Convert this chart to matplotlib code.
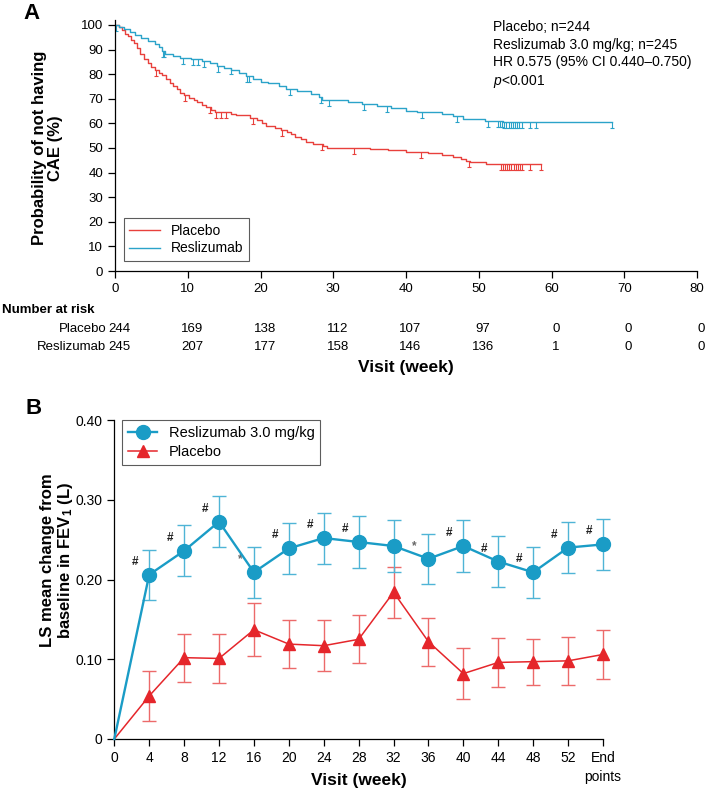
import numpy as np
import matplotlib
matplotlib.use('Agg')
import matplotlib.pyplot as plt
from matplotlib.path import Path

plt.rcParams['font.family'] = ['Liberation Sans', 'DejaVu Sans']
plt.rcParams['mathtext.fontset'] = 'custom'
plt.rcParams['mathtext.rm'] = 'Liberation Sans'
plt.rcParams['mathtext.it'] = 'Liberation Sans:italic'
plt.rcParams['mathtext.bf'] = 'Liberation Sans:bold'

# ---------------- Panel A data (Kaplan-Meier) ----------------
placebo_km_t = [0, 0.5, 1.0, 1.4, 1.8, 2.2, 2.6, 3.0, 3.5, 4.0, 4.5, 5.0, 5.5, 6.0, 6.5, 7.0,
                7.5, 8.0, 8.5, 9.0, 9.5, 10.2, 10.8, 11.3, 11.9, 12.5, 13.2, 13.8, 16.0, 16.6,
                18.6, 19.5, 20.2, 20.8, 22.0, 22.8, 23.6, 24.2, 24.8, 25.5, 26.3, 27.2, 28.6,
                29.1, 35.0, 37.5, 40.0, 43.0, 45.0, 46.5, 47.6, 48.2, 48.8, 51.0, 58.6]
placebo_km_s = [100, 99.2, 98, 96.5, 95.5, 94, 92.5, 90.5, 88, 86, 84.5, 83, 81.5, 80.5, 79.5, 78,
                76.5, 75, 74, 72.5, 71.5, 70.5, 69.5, 68.5, 67.5, 66.5, 65.5, 64.8, 64, 63.2,
                62.3, 61.3, 60.2, 59, 58.3, 57.5, 56.5, 55.5, 54.5, 53.5, 52.5, 51.7, 51,
                50, 49.5, 49, 48.3, 47.8, 47, 46.5, 45.6, 44.8, 44.1, 43.6, 43.6]
resl_km_t = [0, 0.5, 1.2, 2.0, 2.8, 3.6, 4.5, 5.5, 6.0, 6.5, 6.9, 8.0, 9.0, 10.5, 12.0, 13.0,
             14.0, 15.0, 16.0, 17.0, 18.0, 19.0, 20.0, 21.0, 22.5, 23.5, 25.0, 27.0, 28.0, 28.5,
             32.0, 34.0, 36.0, 38.0, 40.0, 41.5, 45.0, 46.4, 47.8, 50.8, 53.4, 68.3]
resl_km_s = [100, 99.3, 98.2, 97, 95.8, 94.6, 93.5, 92.3, 91, 89.5, 88.3, 87.5, 86.7, 86, 85.3, 84.5,
             83.5, 82.5, 81.5, 80.5, 79.2, 78, 77, 76.2, 75, 74, 73, 71.8, 70.6, 69.6,
             68.8, 68, 67, 66.3, 65.2, 64.5, 63.8, 62.8, 61.8, 61, 60.5, 60.5]
placebo_cens = [5.6, 9.6, 13.1, 13.9, 14.6, 15.3, 19.0, 23.0, 28.5, 32.8, 42.0, 48.6,
                53.0, 53.3, 53.6, 53.9, 54.2, 54.5, 54.8, 55.1, 55.4, 55.7, 56.0, 57.1, 58.6]
resl_cens = [0.2, 6.6, 6.8, 9.3, 10.7, 11.4, 12.2, 14.1, 15.9, 18.1, 18.4, 24.0, 28.3, 29.4,
             34.2, 37.4, 42.2, 47.0, 51.3, 52.6, 52.9, 53.2, 53.5, 53.8, 54.1, 54.4, 54.7,
             55.0, 55.3, 55.6, 56.0, 57.1, 57.9, 68.3]
risk_times = [0, 10, 20, 30, 40, 50, 60, 70, 80]
risk_placebo = [244, 169, 138, 112, 107, 97, 0, 0, 0]
risk_resl = [245, 207, 177, 158, 146, 136, 1, 0, 0]

# ---------------- Panel B data (FEV1) ----------------
visit_pos = [0, 4, 8, 12, 16, 20, 24, 28, 32, 36, 40, 44, 48, 52, 56]
visit_labels = ['0', '4', '8', '12', '16', '20', '24', '28', '32', '36', '40', '44', '48', '52',
                'End\npoints']
resl_mean = [0, 0.206, 0.236, 0.2725, 0.209, 0.239, 0.252, 0.247, 0.242, 0.226, 0.242, 0.2225,
             0.209, 0.240, 0.244]
resl_err = [0, 0.0315, 0.032, 0.032, 0.032, 0.032, 0.032, 0.032, 0.032, 0.0315, 0.0325, 0.032,
            0.032, 0.0315, 0.032]
plac_mean = [0, 0.054, 0.102, 0.101, 0.137, 0.119, 0.117, 0.125, 0.184, 0.122, 0.082, 0.096,
             0.097, 0.098, 0.106]
plac_err = [0, 0.0315, 0.030, 0.031, 0.033, 0.030, 0.032, 0.030, 0.032, 0.030, 0.032, 0.031,
            0.029, 0.030, 0.031]
resl_sig = ['', '#', '#', '#', '*', '#', '#', '#', '', '*', '#', '#', '#', '#', '#']

RED_KM = '#e8403c'
BLUE_KM = '#2ba3c9'
BLUE = '#1a9cc6'
BLUE_ERR = '#4fb4d6'
RED = '#e5262b'
RED_ERR = '#ec6a6a'

W, H = 705, 792
fig = plt.figure(figsize=(W / 100, H / 100), dpi=100)

# ---------- Panel A ----------
axA = fig.add_axes([115 / W, (H - 271) / H, 582 / W, 251 / H])
axA.step(placebo_km_t, placebo_km_s, where='post', color=RED_KM, lw=1.0, label='Placebo')
axA.step(resl_km_t, resl_km_s, where='post', color=BLUE_KM, lw=1.0, label='Reslizumab')

cens_marker = Path([(0, 0), (0, -1), (-0.35, -1), (0.35, -1)],
                   [Path.MOVETO, Path.LINETO, Path.MOVETO, Path.LINETO])


def km_at(times, surv, t):
    idx = np.searchsorted(times, t, side='right') - 1
    return np.asarray(surv)[idx]


axA.plot(placebo_cens, km_at(placebo_km_t, placebo_km_s, placebo_cens), ls='none',
         marker=cens_marker, ms=9, mec=RED_KM, mew=0.8)
axA.plot(resl_cens, km_at(resl_km_t, resl_km_s, resl_cens), ls='none',
         marker=cens_marker, ms=9, mec=BLUE_KM, mew=0.8)

axA.set_xlim(0, 80)
axA.set_ylim(0, 102)
axA.set_xticks(risk_times)
axA.set_yticks(np.arange(0, 101, 10))
axA.tick_params(labelsize=9.5, length=5, width=0.9, direction='out')
for s in ['top', 'right']:
    axA.spines[s].set_visible(False)
for s in ['left', 'bottom']:
    axA.spines[s].set_linewidth(0.9)
axA.spines['left'].set_bounds(0, 102)
axA.set_ylabel('Probability of not having\nCAE (%)', fontsize=12, fontweight='bold',
               linespacing=1.1)
axA.yaxis.set_label_coords(-0.089, 0.49)
legA = axA.legend(loc='lower left', bbox_to_anchor=(0.015, 0.04), frameon=True, fancybox=False,
                  edgecolor='#333333', fontsize=10, handlelength=2.2, borderpad=0.4,
                  labelspacing=0.25, borderaxespad=0)
legA.get_frame().set_linewidth(0.8)

fig.text(493 / W, 1 - 20 / H, 'Placebo; n=244', fontsize=10, va='top', ha='left')
fig.text(493 / W, 1 - 37.5 / H, 'Reslizumab 3.0 mg/kg; n=245', fontsize=10, va='top', ha='left')
fig.text(493 / W, 1 - 55 / H, 'HR 0.575 (95% CI 0.440\u20130.750)', fontsize=10, va='top', ha='left')
fig.text(493 / W, 1 - 72.5 / H, r'$p$<0.001', fontsize=10, va='top', ha='left')

# Number at risk table
fig.text(2 / W, 1 - 310 / H, 'Number at risk', fontsize=9.5, fontweight='bold', va='center',
         ha='left')
fig.text(106 / W, 1 - 329 / H, 'Placebo', fontsize=9.5, va='center', ha='right')
fig.text(106 / W, 1 - 347 / H, 'Reslizumab', fontsize=9.5, va='center', ha='right')
for t, p, r in zip(risk_times, risk_placebo, risk_resl):
    xf = axA.transData.transform((t + 0.6, 0))[0] / W
    fig.text(xf, 1 - 329 / H, str(p), fontsize=9.5, va='center', ha='center')
    fig.text(xf, 1 - 347 / H, str(r), fontsize=9.5, va='center', ha='center')
fig.text(406 / W, 1 - 367 / H, 'Visit (week)', fontsize=12.5, fontweight='bold', va='center',
         ha='center')

fig.text(23 / W, 1 - 3 / H, 'A', fontsize=16, fontweight='bold', va='top', ha='left')
fig.text(25 / W, 1 - 398 / H, 'B', fontsize=16, fontweight='bold', va='top', ha='left')

# ---------- Panel B ----------
axB = fig.add_axes([114.3 / W, (H - 739) / H, 488.7 / W, 319 / H])
x = np.array(visit_pos)
e1 = axB.errorbar(x[1:], np.array(plac_mean)[1:], yerr=np.array(plac_err)[1:], fmt='none',
                  ecolor=RED_ERR, elinewidth=1.0, capsize=5, capthick=1.0, zorder=2)
e2 = axB.errorbar(x[1:], np.array(resl_mean)[1:], yerr=np.array(resl_err)[1:], fmt='none',
                  ecolor=BLUE_ERR, elinewidth=1.0, capsize=5, capthick=1.0, zorder=2)
for e in (e1, e2):
    for child in e.get_children():
        child.set_clip_on(False)
axB.plot(x, plac_mean, color=RED, lw=1.1, marker='^', ms=8.5, markevery=list(range(1, len(x))),
         mec=RED, mfc=RED, zorder=3, clip_on=False)
axB.plot(x, resl_mean, color=BLUE, lw=1.7, marker='o', ms=10, markevery=list(range(1, len(x))),
         mec=BLUE, mfc=BLUE, zorder=4, clip_on=False)
for xi, yi, s in zip(x, resl_mean, resl_sig):
    if s:
        axB.annotate(s, (xi, yi), xytext=(-10, 5), textcoords='offset points', fontsize=8.5,
                     fontweight='bold', ha='center', va='bottom',
                     color='#222222' if s == '#' else '#666666')

# legend proxies
h1, = axB.plot([], [], color=BLUE, lw=1.7, marker='o', ms=10, label='Reslizumab 3.0 mg/kg')
h2, = axB.plot([], [], color=RED, lw=1.1, marker='^', ms=8.5, label='Placebo')
legB = axB.legend(handles=[h1, h2], loc='upper left', bbox_to_anchor=(0.016, 1.0), frameon=True,
                  fancybox=False, edgecolor='#333333', fontsize=10.5, handlelength=2.0,
                  borderpad=0.4, labelspacing=0.35, borderaxespad=0)
legB.get_frame().set_linewidth(0.8)

axB.set_xlim(0, 56)
axB.set_ylim(0, 0.40)
axB.set_xticks(visit_pos)
axB.set_xticklabels(visit_labels, linespacing=1.5)
axB.set_yticks([0, 0.10, 0.20, 0.30, 0.40])
axB.set_yticklabels(['0', '0.10', '0.20', '0.30', '0.40'])
axB.tick_params(labelsize=10, length=5, width=0.9, direction='out')
for s in ['top', 'right']:
    axB.spines[s].set_visible(False)
for s in ['left', 'bottom']:
    axB.spines[s].set_linewidth(0.9)
axB.set_ylabel('LS mean change from\nbaseline in FEV$_\\mathbf{1}$ (L)', fontsize=12,
               fontweight='bold', linespacing=1.1)
axB.yaxis.set_label_coords(-0.08, 0.56)
axB.set_xlabel('Visit (week)', fontsize=12.5, fontweight='bold', labelpad=0)
axB.xaxis.label.set_va('center')
axB.xaxis.set_label_coords(0.5, -(781 - 739) / 319)

fig.savefig('out.png', dpi=100)
